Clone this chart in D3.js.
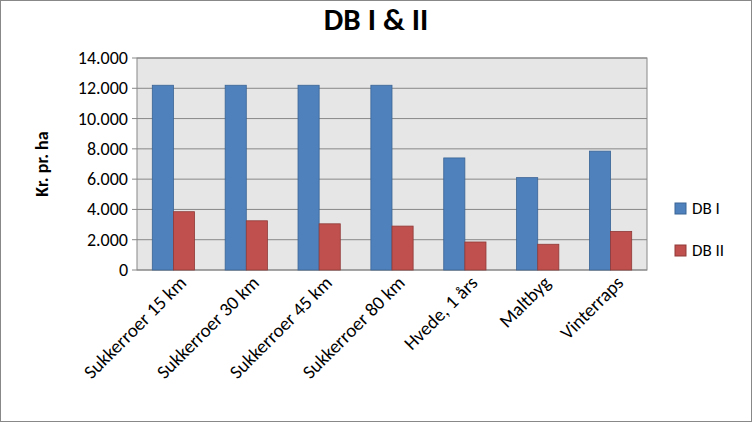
<!DOCTYPE html><html><head><meta charset="utf-8"><script src="https://cdn.jsdelivr.net/npm/d3@7"></script>
<style>body{margin:0;background:#fff}svg{display:block}text{font-family:Calibri,Carlito,"Liberation Sans",Arial,sans-serif}</style></head><body>
<svg id="c" width="752" height="422"></svg>
<script>
const categories=["Sukkerroer 15 km","Sukkerroer 30 km","Sukkerroer 45 km","Sukkerroer 80 km","Hvede, 1 års","Maltbyg","Vinterraps"];
const dbI=[12200,12200,12200,12200,7400,6100,7850];
const dbII=[3850,3250,3050,2900,1850,1700,2550];
const seriesNames=["DB I","DB II"];
const colors=["#4f81bd","#c0504d"];
const strokes=["#3a6495","#8f3a38"];
const yTicks=[0,2000,4000,6000,8000,10000,12000,14000];
const svg=d3.select("#c");
svg.append("rect").attr("x",0.5).attr("y",0.5).attr("width",751).attr("height",421).attr("fill","#fff").attr("stroke","#888");
const L=137,R=647,T=58,B=270;
const x=d3.scaleBand().domain(categories).range([L,R]).paddingInner(0.42).paddingOuter(0.21);
const y=d3.scaleLinear().domain([0,14000]).range([B,T]);
svg.append("rect").attr("x",L).attr("y",T).attr("width",R-L).attr("height",B-T).attr("fill","#e6e6e6").attr("stroke","#888");
const fmt=d=>d===0?"0":d3.format(",")(d).replace(/,/g,".");
yTicks.forEach(t=>{svg.append("line").attr("x1",L-5).attr("x2",R).attr("y1",y(t)).attr("y2",y(t)).attr("stroke","#888");
 svg.append("text").attr("x",L-9).attr("y",y(t)+6).attr("text-anchor","end").attr("font-size",18).text(fmt(t));});
const xs=d3.scaleBand().domain(seriesNames).range([0,x.bandwidth()]);
[dbI,dbII].forEach((arr,si)=>{svg.append("g").selectAll("rect").data(arr).join("rect")
 .attr("x",(d,i)=>x(categories[i])+xs(seriesNames[si])).attr("width",xs.bandwidth()).attr("y",d=>y(d)).attr("height",d=>B-y(d))
 .attr("fill",colors[si]).attr("stroke",strokes[si]).attr("stroke-width",0.8);});
categories.forEach(c=>{const cx=x(c)+x.bandwidth()/2+14;
 svg.append("text").attr("transform",`translate(${cx},${B+14}) rotate(-45)`).attr("text-anchor","end").attr("font-size",19).text(c);});
svg.append("text").attr("x",376).attr("y",30).attr("text-anchor","middle").attr("font-size",31).attr("font-weight","bold").text("DB I & II");
svg.append("text").attr("transform",`translate(48,${(T+B)/2}) rotate(-90)`).attr("text-anchor","middle").attr("font-size",18).attr("font-weight","bold").text("Kr. pr. ha");
seriesNames.forEach((s,i)=>{const ly=203+i*42;
 svg.append("rect").attr("x",675).attr("y",ly).attr("width",11).attr("height",11).attr("fill",colors[i]).attr("stroke",strokes[i]);
 svg.append("text").attr("x",692).attr("y",ly+11).attr("font-size",17).text(s);});
</script></body></html>
